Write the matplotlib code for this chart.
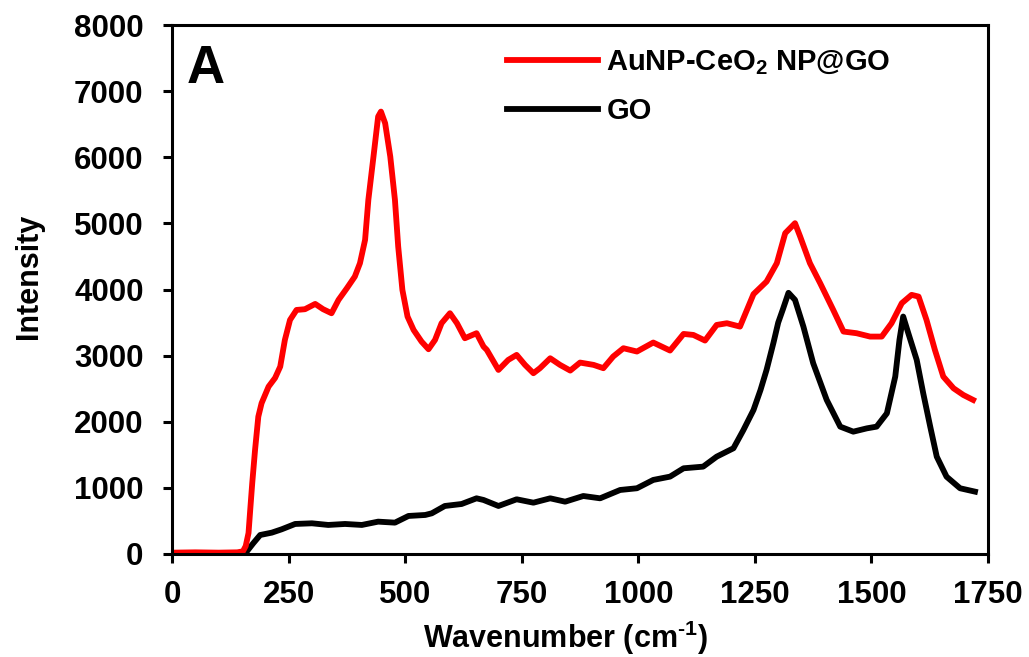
import numpy as np
import matplotlib.pyplot as plt

plt.rcParams['font.family'] = ['Liberation Sans', 'DejaVu Sans']
plt.rcParams['font.weight'] = 'bold'
plt.rcParams['mathtext.fontset'] = 'custom'
plt.rcParams['mathtext.rm'] = 'Liberation Sans:bold'
plt.rcParams['mathtext.bf'] = 'Liberation Sans:bold'
plt.rcParams['mathtext.it'] = 'Liberation Sans:bold'
plt.rcParams['mathtext.default'] = 'rm'

# AuNP-CeO2 NP@GO spectrum
red_x = [0, 50, 100, 140, 152, 158, 164, 168, 172, 178, 185, 192, 207, 221, 232, 242,
         253, 267, 285, 307, 324, 342, 357, 375, 392, 403, 414, 421, 432, 442, 448, 457,
         468, 478, 485, 494, 505, 518, 535, 550, 564, 578, 596, 611, 628, 653, 668, 675,
         700, 721, 739, 757, 775, 789, 811, 832, 854, 875, 904, 925, 946, 968, 997, 1032,
         1068, 1097, 1118, 1143, 1168, 1190, 1218, 1247, 1275, 1297, 1315, 1336, 1347,
         1368, 1390, 1418, 1440, 1468, 1497, 1522, 1543, 1565, 1586, 1601, 1618, 1636,
         1654, 1676, 1697, 1718]
red_y = [20, 25, 20, 25, 40, 120, 317, 700, 1074, 1573, 2077, 2280, 2531, 2663, 2834, 3238,
         3540, 3691, 3702, 3782, 3702, 3641, 3843, 4020, 4196, 4398, 4751, 5356, 6011, 6616, 6691, 6515,
         6011, 5356, 4650, 3994, 3591, 3389, 3213, 3097, 3238, 3490, 3641, 3490, 3263, 3339, 3137, 3087,
         2784, 2935, 3011, 2860, 2734, 2810, 2960, 2860, 2774, 2895, 2860, 2810, 2986, 3112, 3062, 3198,
         3077, 3328, 3313, 3228, 3464, 3490, 3439, 3930, 4120, 4398, 4852, 5003, 4802,
         4398, 4095, 3691, 3364, 3339, 3288, 3288, 3490, 3793, 3919, 3893, 3540, 3087,
         2683, 2506, 2405, 2330]

# GO spectrum
go_x = [0, 100, 150, 160, 174, 189, 214, 235, 264, 300, 335, 371, 407, 442, 478, 507,
        543, 557, 585, 621, 653, 668, 700, 739, 775, 811, 843, 882, 918, 961, 997, 1032,
        1068, 1097, 1139, 1168, 1204, 1225, 1247, 1262, 1275, 1290, 1300, 1310, 1322, 1336,
        1354, 1375, 1404, 1433, 1461, 1490, 1511, 1533, 1551, 1560, 1568, 1579, 1597, 1611,
        1626, 1640, 1661, 1690, 1722]
go_y = [0, 0, 5, 35, 161, 287, 323, 373, 454, 464, 439, 454, 439, 489, 474, 575,
        590, 615, 726, 756, 842, 817, 726, 827, 776, 842, 791, 877, 842, 968, 994, 1120,
        1170, 1296, 1321, 1472, 1599, 1870, 2178, 2480, 2784, 3200, 3500, 3700, 3950, 3843,
        3439, 2885, 2330, 1926, 1850, 1900, 1926, 2127, 2683, 3238, 3591, 3339, 2935, 2430,
        1926, 1472, 1169, 994, 943]

fig = plt.figure(figsize=(10.29, 6.57), dpi=100)
ax = fig.add_axes([0.1672, 0.1568, 0.7930, 0.8051])

ax.plot(go_x, go_y, color='black', lw=4.2, label='GO')
ax.plot(red_x, red_y, color='#ff0000', lw=4.2, label='AuNP-CeO$_2$ NP@GO')

ax.set_xlim(0, 1750)
ax.set_ylim(0, 8000)
ax.set_xticks(np.arange(0, 1751, 250))
ax.set_yticks(np.arange(0, 8001, 1000))
ax.tick_params(direction='out', length=6.5, width=2.2, labelsize=22.5)
ax.tick_params(axis='x', pad=12)
ax.tick_params(axis='y', pad=14)
for s in ax.spines.values():
    s.set_linewidth(2.2)

ax.set_xlabel(r'Wavenumber (cm$^{\text{-}1}$)', fontsize=22, fontweight='bold')
ax.set_ylabel('Intensity', fontsize=22, fontweight='bold')
ax.xaxis.set_label_coords(0.4816, -0.123)
ax.yaxis.set_label_coords(-0.157, 0.525)

ax.text(0.018, 0.965, 'A', transform=ax.transAxes, fontsize=38, fontweight='bold',
        va='top', ha='left')

h, l = ax.get_legend_handles_labels()
ax.legend(h[::-1], l[::-1], loc='upper left', bbox_to_anchor=(0.382, 1.0), frameon=False,
          fontsize=21, handlelength=3.1, handletextpad=0.3, labelspacing=0.68,
          borderpad=0.3)

fig.savefig('out.png', dpi=100)
